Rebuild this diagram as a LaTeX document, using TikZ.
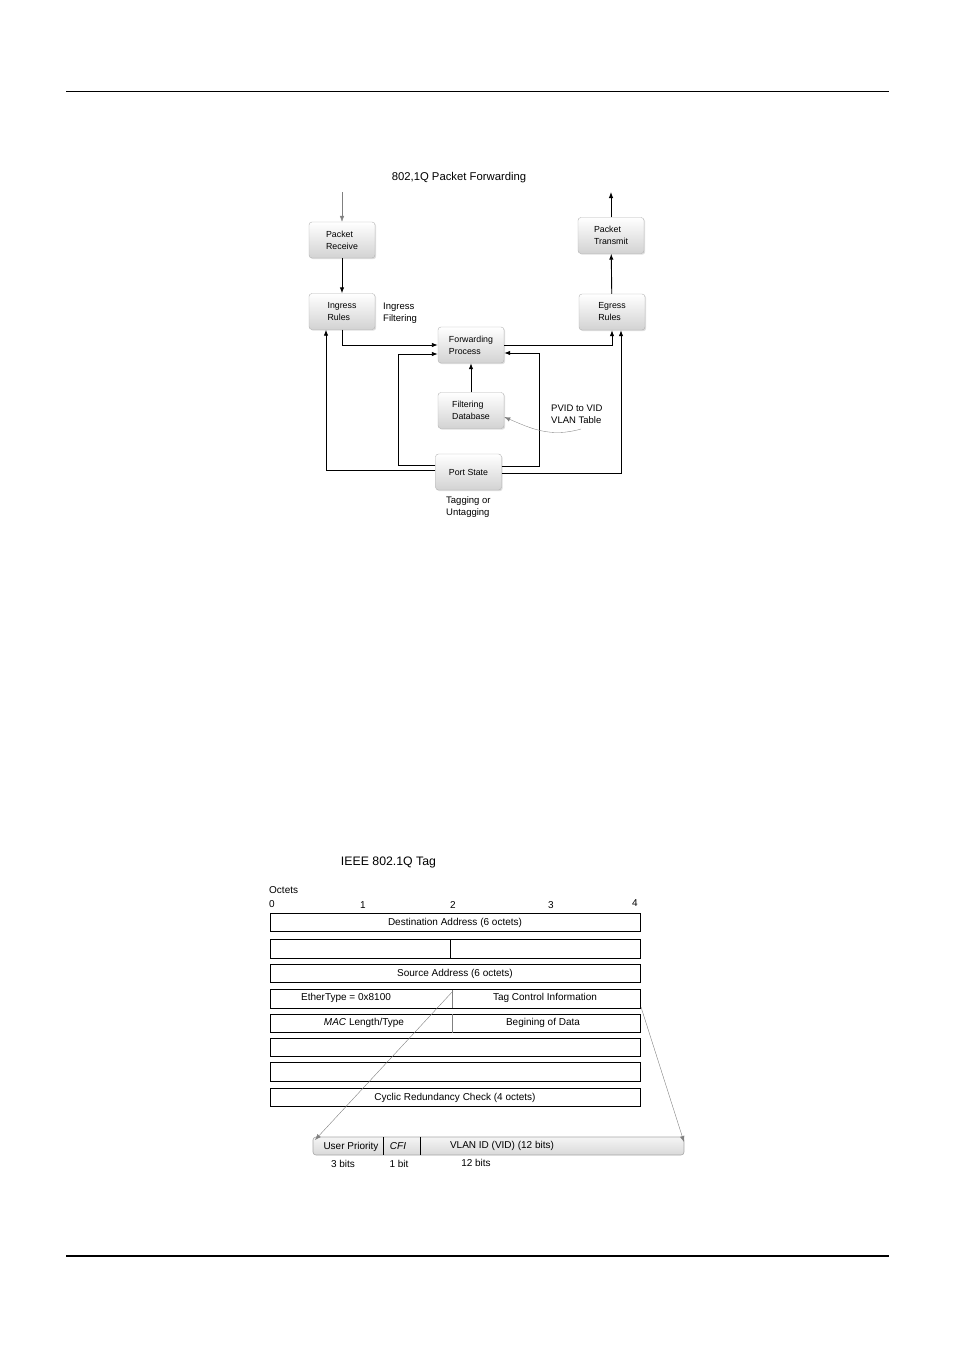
\documentclass[tikz,border=0pt]{standalone}
\usepackage{fontspec}
\setmainfont{Liberation Sans}
\usetikzlibrary{arrows.meta,shadows,calc}
\begin{document}
\begin{tikzpicture}[x=1pt,y=-1pt,
  box/.style={draw=gray!60, rounded corners=3pt, top color=white, bottom color=gray!35,
    minimum width=66pt, minimum height=36pt, align=left, font=\fontsize{8.8}{12}\selectfont,
    drop shadow={shadow xshift=1.2pt, shadow yshift=-1.2pt, opacity=0.25}},
  arr/.style={-{Latex[length=6pt,width=4.5pt]}, line width=0.9pt},
  thinarr/.style={-{Latex[length=6pt,width=4.5pt]}, line width=0.4pt, draw=gray},
  lbl/.style={inner sep=0pt, align=left, font=\fontsize{9.5}{12}\selectfont},
  row/.style={draw, line width=0.9pt, minimum width=370pt, minimum height=18.5pt, inner sep=0pt, font=\fontsize{10}{11}\selectfont},
  txt/.style={inner sep=0pt, font=\fontsize{10}{11}\selectfont}
]
\useasboundingbox (0,0) rectangle (954,1350);
\draw[line width=1pt] (66,91) -- (889,91);
\draw[line width=2pt] (66,1256) -- (889,1256);

% ---------- Diagram 1 ----------
\node[inner sep=0pt, font=\fontsize{11.3}{13}\selectfont] (t1) at (459,178) {802,1Q Packet Forwarding};

\node[box] (prx) at (342,240) {Packet\\Receive};
\node[box] (ing) at (342,311.5) {Ingress\\Rules};
\node[box] (ptx) at (611,235.5) {Packet\\Transmit};
\node[box] (egr) at (612,312) {Egress\\Rules};
\node[box] (fwd) at (471,345) {Forwarding\\Process};
\node[box] (fdb) at (471,410.5) {Filtering\\Database};
\node[box] (pst) at (468.5,472) {Port State};

\coordinate (in) at (342,192);
\coordinate (out) at (611,192);
\draw[thinarr] (in) -- (prx.north);
\draw[arr] (ptx.north) -- (out);
\draw[arr] (prx) -- (ing);
\draw[arr] (ing.south) |- (fwd.west);
\draw[arr] (fwd.east) -| (egr.south);
\draw[arr] (egr) -- (ptx);
\draw[arr] (fdb) -- (fwd);
\draw[arr] ($(pst.west)+(0,-2)$) -| ($(ing.south)+(-16,0)$);
\draw[arr] ($(pst.west)+(0,-7)$) -- ++(-37,0) |- ($(fwd.west)+(0,9)$);
\draw[arr] ($(pst.east)+(0,-6)$) -- ++(38,0) |- ($(fwd.east)+(0,8)$);
\draw[arr] ($(pst.east)+(0,1)$) -| ($(egr.south)+(9,0)$);

\node[lbl, anchor=west] (ingf) at (383,313) {Ingress\\Filtering};
\node[lbl, anchor=west] (pvid) at (551,414) {PVID to VID\\VLAN Table};
\node[lbl, anchor=west] (tag) at (446,507) {Tagging or\\Untagging};
\coordinate (pv) at (581,429);
\draw[thinarr, line width=0.35pt] (pv) .. controls (550,438) and (530,428) .. ($(fdb.east)+(0,6.5)$);

% ---------- Diagram 2 ----------
\node[inner sep=0pt, font=\fontsize{12.3}{14}\selectfont] (t2) at (388.5,862) {IEEE 802.1Q Tag};
\node[txt, anchor=west] (oct) at (269,890) {Octets};
\node[txt] (n0) at (272,904.5) {0};
\node[txt] (n1) at (363,905.5) {1};
\node[txt] (n2) at (453,904.5) {2};
\node[txt] (n3) at (551,905) {3};
\node[txt] (n4) at (635,903.5) {4};

\node[row] (r1) at (455,922.5) {Destination Address (6 octets)};
\node[row] (r2) at (455,949) {};
\draw[line width=0.9pt] (450,940) -- (450,958);
\node[row] (r3) at (455,973.5) {Source Address (6 octets)};
\node[row] (r4) at (455,999) {};
\draw[line width=0.4pt, gray] (452,990) -- (452,1008);
\node[txt] (et) at (346,997.5) {EtherType = 0x8100};
\node[txt] (tci) at (545,998) {Tag Control Information};
\node[row] (r5) at (455,1023.5) {};
\draw[line width=0.4pt, gray] (452,1014) -- (452,1033);
\node[txt] (mac) at (364,1022.5) {\textit{MAC} Length/Type};
\node[txt] (bod) at (543,1023) {Begining of Data};
\node[row] (r6) at (455,1047.5) {};
\node[row] (r7) at (455,1072) {};
\node[row] (r8) at (455,1097.5) {Cyclic Redundancy Check (4 octets)};

\node[draw=gray!70, line width=0.6pt, rounded corners=3pt, top color=gray!8, bottom color=gray!30,
  minimum width=371pt, minimum height=18pt, inner sep=0pt] (bar) at (498.5,1146) {};
\draw[line width=0.7pt] (383,1137) -- (383,1155);
\draw[line width=0.7pt] (420,1137) -- (420,1155);
\node[txt] (up) at (351,1146.5) {User Priority};
\node[txt] (cfi) at (398,1146.5) {\textit{CFI}};
\node[txt] (vid) at (502,1145.5) {VLAN ID (VID) (12 bits)};
\node[txt] (b3) at (343,1163.5) {3 bits};
\node[txt] (b1) at (399,1164) {1 bit};
\node[txt] (b12) at (476,1163) {12 bits};

\coordinate (s1) at (453,991);
\coordinate (s2) at (641,1007);
\coordinate (e1) at (315,1140);
\coordinate (e2) at (684,1142);
\draw[thinarr] (s1) -- (e1);
\draw[thinarr] (s2) -- (e2);
\end{tikzpicture}
\end{document}
